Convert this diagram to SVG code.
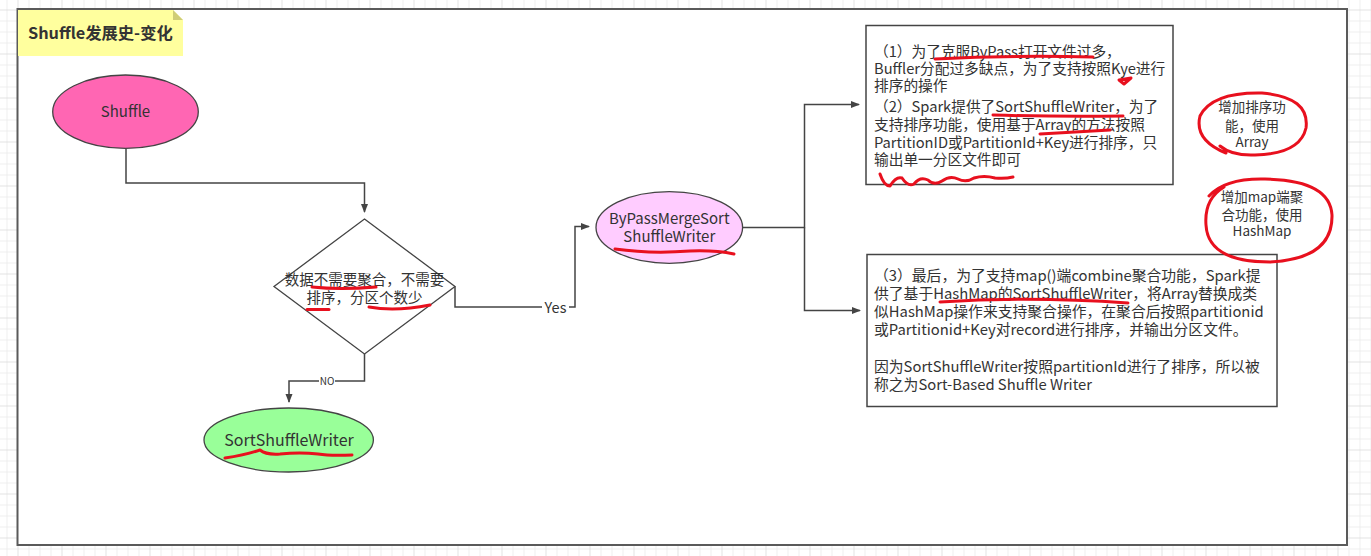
<svg xmlns="http://www.w3.org/2000/svg" width="1371" height="556" viewBox="0 0 1371 556">
<style>
.t{font-family:"Noto Sans CJK SC","Noto Sans",sans-serif;fill:#333333;}
.box{fill:#ffffff;stroke:#444444;stroke-width:1.5;}
.edge{fill:none;stroke:#444444;stroke-width:1.5;}
.red{fill:none;stroke:#e8101e;stroke-width:3;stroke-linecap:round;stroke-linejoin:round;}
.node{stroke:#444444;stroke-width:1.3;}
</style>
<defs>
<pattern id="grid" x="17.5" y="9.5" width="44" height="44" patternUnits="userSpaceOnUse">
<path d="M11.5,0V44M22.5,0V44M33.5,0V44M0,11.5H44M0,22.5H44M0,33.5H44" stroke="#eeeeee" stroke-width="1" fill="none"/>
<path d="M0.5,0V44M0,0.5H44" stroke="#e2e2e2" stroke-width="1" fill="none"/>
</pattern>
<marker id="arr" markerWidth="10" markerHeight="10" refX="8" refY="5" orient="auto" markerUnits="userSpaceOnUse">
<path d="M0,1.5L9,5L0,8.5Z" fill="#444444"/>
</marker>
</defs>
<rect x="0" y="0" width="1371" height="556" fill="#ffffff"/>
<rect x="0" y="0" width="1371" height="556" fill="url(#grid)"/>
<rect id="frame" x="17.5" y="9" width="1329.5" height="536" fill="#ffffff" stroke="#5a5a5a" stroke-width="2"/>

<g id="title-note">
<path d="M18,10H173L183,20V56H18Z" fill="#ffff9e"/>
<path d="M173,10L183,20H173Z" fill="#cfcd78"/>
<text class="t" x="28" y="38.5" font-size="16.3" font-weight="bold">Shuffle发展史-变化</text>
</g>

<g id="connectors">
<path class="edge" d="M126,148.5V183H364.5V212" marker-end="url(#arr)"/>
<path class="edge" d="M455,286.5V307H575V226.5H589" marker-end="url(#arr)"/>
<rect x="542" y="299" width="27" height="17" fill="#ffffff"/>
<text class="t" x="555.5" y="313" font-size="14.5" text-anchor="middle">Yes</text>
<path class="edge" d="M364.5,354V381H289V402" marker-end="url(#arr)"/>
<rect x="319" y="375" width="16" height="12" fill="#ffffff"/>
<text class="t" x="327" y="385" font-size="10" text-anchor="middle">NO</text>
<path class="edge" d="M742.5,227.5H804.5V104.5H859" marker-end="url(#arr)"/>
<path class="edge" d="M804.5,227.5V310.5H860" marker-end="url(#arr)"/>
</g>

<g id="shuffle">
<ellipse class="node" cx="125.5" cy="111.7" rx="72.8" ry="36.7" fill="#ff66b3"/>
<text class="t" x="125.5" y="117" font-size="15" text-anchor="middle">Shuffle</text>
</g>

<g id="decision">
<path class="node" d="M364.5,219L455,286.5L364.5,354L274,286.5Z" fill="#ffffff"/>
<text class="t" font-size="14.5" text-anchor="middle"><tspan x="364.5" y="285">数据不需要聚合，不需要</tspan><tspan x="364.5" y="303">排序，分区个数少</tspan></text>
</g>

<g id="bypass">
<ellipse class="node" cx="669.3" cy="227.5" rx="73.3" ry="35.8" fill="#ffccff"/>
<text class="t" font-size="15" text-anchor="middle"><tspan x="669.3" y="223.5">ByPassMergeSort</tspan><tspan x="669.3" y="242">ShuffleWriter</tspan></text>
</g>

<g id="sortshufflewriter">
<ellipse class="node" cx="288.7" cy="440" rx="84.7" ry="32" fill="#99ff99"/>
<text class="t" x="289" y="445.5" font-size="16" text-anchor="middle">SortShuffleWriter</text>
</g>

<g id="box1">
<rect class="box" x="866" y="25.5" width="307" height="159"/>
<text class="t" font-size="14.7"><tspan x="874" y="56.5">（1）为了克服ByPass打开文件过多，</tspan><tspan x="874" y="74">Buffler分配过多缺点，为了支持按照Kye进行</tspan><tspan x="874" y="91">排序的操作</tspan><tspan x="874" y="112">（2）Spark提供了SortShuffleWriter，为了</tspan><tspan x="874" y="130">支持排序功能，使用基于Array的方法按照</tspan><tspan x="874" y="148">PartitionID或PartitionId+Key进行排序，只</tspan><tspan x="874" y="165">输出单一分区文件即可</tspan></text>
</g>

<g id="box2">
<rect class="box" x="867" y="254.5" width="410" height="152"/>
<text class="t" font-size="14.8"><tspan x="874" y="281">（3）最后，为了支持map()端combine聚合功能，Spark提</tspan><tspan x="874" y="299.3">供了基于HashMap的SortShuffleWriter，将Array替换成类</tspan><tspan x="874" y="317">似HashMap操作来支持聚合操作，在聚合后按照partitionid</tspan><tspan x="874" y="335">或Partitionid+Key对record进行排序，并输出分区文件。</tspan><tspan x="874" y="372.3">因为SortShuffleWriter按照partitionId进行了排序，所以被</tspan><tspan x="874" y="390">称之为Sort-Based Shuffle Writer</tspan></text>
</g>

<g id="note-array">
<text class="t" font-size="13.5" text-anchor="middle"><tspan x="1252" y="111.5">增加排序功</tspan><tspan x="1252" y="130.5">能，使用</tspan><tspan x="1252" y="147">Array</tspan></text>
</g>

<g id="note-hashmap">
<text class="t" font-size="13.5" text-anchor="middle"><tspan x="1262" y="202">增加map端聚</tspan><tspan x="1262" y="220">合功能，使用</tspan><tspan x="1262" y="235.5">HashMap</tspan></text>
</g>

<g id="annotations">
<path class="red" d="M312,287Q340,290 376,287"/>
<path class="red" d="M307,309.5H329"/>
<path class="red" d="M369,307Q395,312 430,305"/>
<path class="red" d="M615,249Q650,254 690,251Q715,250 734,254"/>
<path class="red" d="M225,458Q245,455 260,450Q266,455 280,454Q300,452 318,454Q330,456 352,455"/>
<path class="red" d="M935,59Q1010,55 1093,57"/>
<path class="red" d="M1119,80L1131,78L1124,84Z"/>
<path class="red" d="M993,115Q1060,117 1123,116"/>
<path class="red" d="M1040,134Q1075,132 1110,130"/>
<path class="red" d="M880,174Q884,186 890,186Q896,176 902,178Q908,187 914,184Q920,176 928,180Q934,186 942,181Q950,175 958,179Q966,183 974,178Q984,175 995,178Q1005,179 1013,177"/>
<path class="red" d="M940,302Q1030,296 1128,303"/>
<path class="red" d="M1220,146Q1232,156 1255,155Q1300,154 1306,128Q1310,97 1262,93Q1212,92 1200,116Q1194,140 1226,153"/>
<path class="red" d="M1209,196Q1225,178 1265,179Q1330,180 1332,215Q1333,259 1270,262Q1208,262 1206,225Q1204,199 1224,187"/>
</g>
</svg>
